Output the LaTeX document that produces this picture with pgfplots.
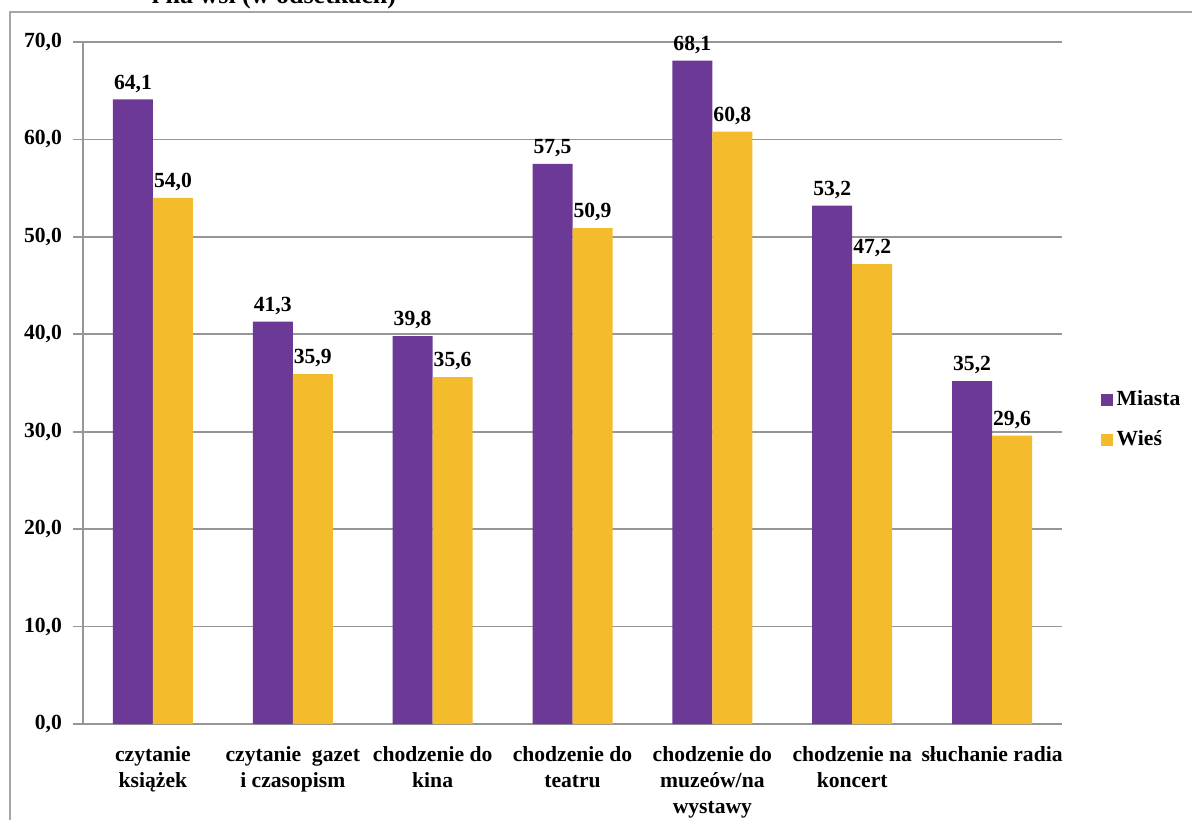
\documentclass[border=0pt]{standalone}
\usepackage{pgfplots}
\pgfplotsset{compat=1.18}
\usepackage{fontspec}
\setmainfont{Liberation Serif}
\definecolor{miasta}{RGB}{108,58,150}
\definecolor{wies}{RGB}{244,188,44}
\definecolor{gridc}{RGB}{150,150,150}
\newcommand{\lbl}[1]{\begin{tabular}[t]{@{}c@{}}#1\end{tabular}}
\begin{document}
\bfseries
\begin{tikzpicture}
\useasboundingbox (0,0) rectangle (596pt,409.5pt);
% ramka i ucięty tytuł
\draw[gray!70, line width=0.8pt] (5pt,-2pt) -- (5pt,403.5pt) -- (600pt,403.5pt);
\node[anchor=base, font=\fontsize{13}{14}\selectfont\bfseries] at (137pt,407.5pt) {i na wsi (w odsetkach)};
\begin{axis}[
    at={(41.5pt,47.5pt)}, anchor=south west,
    scale only axis,
    width=489.5pt, height=341pt,
    ybar=0pt, bar width=20pt,
    xmin=-0.5, xmax=6.5,
    ymin=0, ymax=70,
    ytick={0,10,...,70},
    xtick={0,...,6},
    xticklabels={{\lbl{czytanie\\książek}},{\lbl{czytanie\ \ gazet\\i czasopism}},{\lbl{chodzenie do\\kina}},{\lbl{chodzenie do\\teatru}},{\lbl{chodzenie do\\muzeów/na\\wystawy}},{\lbl{chodzenie na\\koncert}},{\lbl{słuchanie radia}}},
    xticklabel style={anchor=north, font=\fontsize{10.8}{13}\selectfont\bfseries, yshift=-1pt},
    yticklabel style={font=\fontsize{10.8}{13}\selectfont\bfseries, xshift=-2pt},
    /pgf/number format/.cd, fixed, fixed zerofill, precision=1, use comma, assume math mode=true,
    /pgfplots/.cd,
    axis x line*=bottom, axis y line*=left,
    axis line style={gridc, line width=0.9pt},
    tick align=outside, major tick length=5pt,
    xtick style={draw=none},
    ytick style={draw=gridc, line width=0.9pt},
    extra x ticks={-0.5,0.5,...,6.5},
    extra x tick labels={},
    extra x tick style={grid=none, tick style={draw=gridc, line width=0.9pt}},
    ymajorgrids, grid style={gridc, line width=0.9pt},
    nodes near coords,
    nodes near coords style={font=\fontsize{10.8}{13}\selectfont\bfseries, /pgf/number format/.cd, fixed, fixed zerofill, precision=1, use comma},
    legend style={draw=none, fill=none, at={(1.033,0.446)}, anchor=west, font=\fontsize{10.8}{13}\selectfont\bfseries, row sep=7pt},
    legend cell align=left,
    legend image code/.code={\fill[#1] (0pt,-3pt) rectangle (6pt,3pt);},
]
\addplot[fill=miasta, draw=none] coordinates {(0,64.1) (1,41.3) (2,39.8) (3,57.5) (4,68.1) (5,53.2) (6,35.2)};
\addplot[fill=wies, draw=none] coordinates {(0,54.0) (1,35.9) (2,35.6) (3,50.9) (4,60.8) (5,47.2) (6,29.6)};
\legend{Miasta, Wieś}
\end{axis}
\end{tikzpicture}
\end{document}
